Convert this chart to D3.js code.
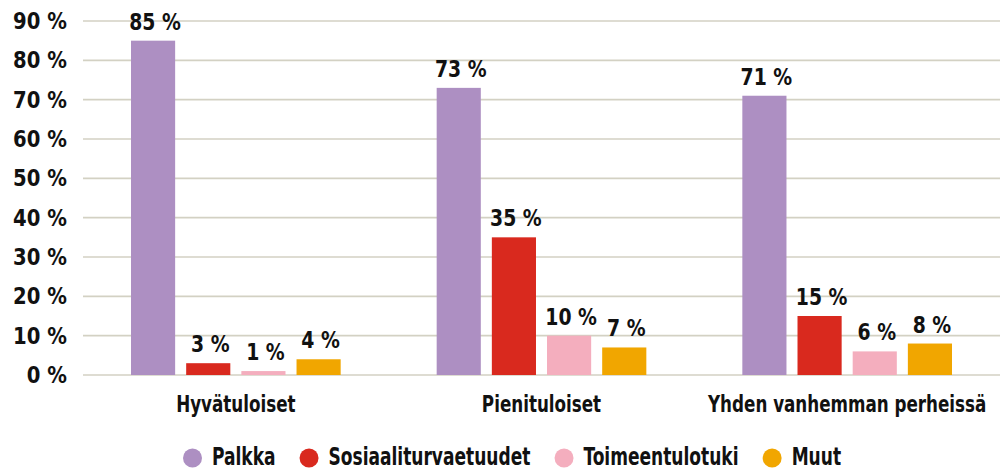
<!DOCTYPE html>
<html lang="fi">
<head>
<meta charset="UTF-8">
<title>Tulonlähteet</title>
<script src="https://d3js.org/d3.v7.min.js"></script>
<style>
  body { margin: 0; background: #fff; }
  svg text { font-family: "Liberation Sans Narrow", "DejaVu Sans Condensed", sans-serif; font-weight: bold; fill: #111; }
</style>
</head>
<body>
<svg id="chart"></svg>
<script>
// data
const groups = ["Hyvätuloiset", "Pienituloiset", "Yhden vanhemman perheissä"];
const series = ["Palkka", "Sosiaaliturvaetuudet", "Toimeentulotuki", "Muut"];
const colors = ["#ad8fc2", "#d9291e", "#f4aebe", "#f1a600"];
const palkka = [85, 73, 71];
const sosiaali = [3, 35, 15];
const toimeentulo = [1, 10, 6];
const muut = [4, 7, 8];
const yTicks = [0, 10, 20, 30, 40, 50, 60, 70, 80, 90];

const values = [palkka, sosiaali, toimeentulo, muut];

const width = 1001, height = 470;
const margin = { left: 83, right: 1, top: 21, bottom: 95 };

const svg = d3.select("#chart").attr("width", width).attr("height", height);

// narrow the text horizontally (original uses a condensed typeface)
function squeeze(sel, k) {
  sel.each(function() {
    const t = d3.select(this);
    const x = +t.attr("x") || 0, y = +t.attr("y") || 0;
    t.attr("x", 0).attr("y", 0)
      .attr("transform", `translate(${x},${y}) scale(${k},1)`);
  });
}

const y = d3.scaleLinear().domain([0, 90]).range([height - margin.bottom, margin.top]);
const x0 = d3.scaleBand().domain(groups).range([margin.left, width - margin.right]);
const x1 = d3.scaleBand().domain(series)
  .range([48, x0.bandwidth() - 48]).paddingInner(0.2);

// gridlines
svg.append("g").selectAll("line")
  .data(yTicks).enter().append("line")
  .attr("x1", margin.left).attr("x2", width - margin.right)
  .attr("y1", d => y(d)).attr("y2", d => y(d))
  .attr("stroke", "#d3d1c3").attr("stroke-width", 1.6);

// y labels
svg.append("g").selectAll("text")
  .data(yTicks).enter().append("text")
  .attr("x", 67).attr("y", d => y(d) + 8)
  .attr("text-anchor", "end")
  .attr("font-size", "23px")
  .text(d => d + " %")
  .call(squeeze, 0.95);

// bars
const g = svg.append("g").selectAll("g")
  .data(groups).enter().append("g")
  .attr("transform", d => `translate(${x0(d)},0)`);

g.selectAll("rect")
  .data((d, gi) => series.map((s, si) => ({ s, si, v: values[si][gi] })))
  .enter().append("rect")
  .attr("x", d => x1(d.s))
  .attr("width", x1.bandwidth())
  .attr("y", d => y(d.v))
  .attr("height", d => y(0) - y(d.v))
  .attr("fill", d => colors[d.si]);

g.selectAll("text.val")
  .data((d, gi) => series.map((s, si) => ({ s, si, v: values[si][gi] })))
  .enter().append("text")
  .attr("class", "val")
  .attr("x", d => x1(d.s) + x1.bandwidth() / 2 + 2)
  .attr("y", d => y(d.v) - 11)
  .attr("text-anchor", "middle")
  .attr("font-size", "23px")
  .text(d => d.v + " %")
  .call(squeeze, 0.91);

// category labels
svg.append("g").selectAll("text")
  .data(groups).enter().append("text")
  .attr("x", d => x0(d) + x0.bandwidth() / 2)
  .attr("y", 412)
  .attr("text-anchor", "middle")
  .attr("font-size", "23px")
  .text(d => d)
  .call(squeeze, 0.81);

// legend
const legend = svg.append("g").attr("transform", "translate(183,0)");
let lx = 0;
series.forEach((s, i) => {
  const item = legend.append("g").attr("transform", `translate(${lx},0)`);
  item.append("circle").attr("cx", 9.5).attr("cy", 458).attr("r", 9.5).attr("fill", colors[i]);
  const t = item.append("text").attr("x", 29).attr("y", 465).attr("font-size", "24px").text(s);
  const w = t.node().getComputedTextLength() * 0.79;
  t.call(squeeze, 0.79);
  lx += 29 + w + 24;
});
</script>
</body>
</html>
